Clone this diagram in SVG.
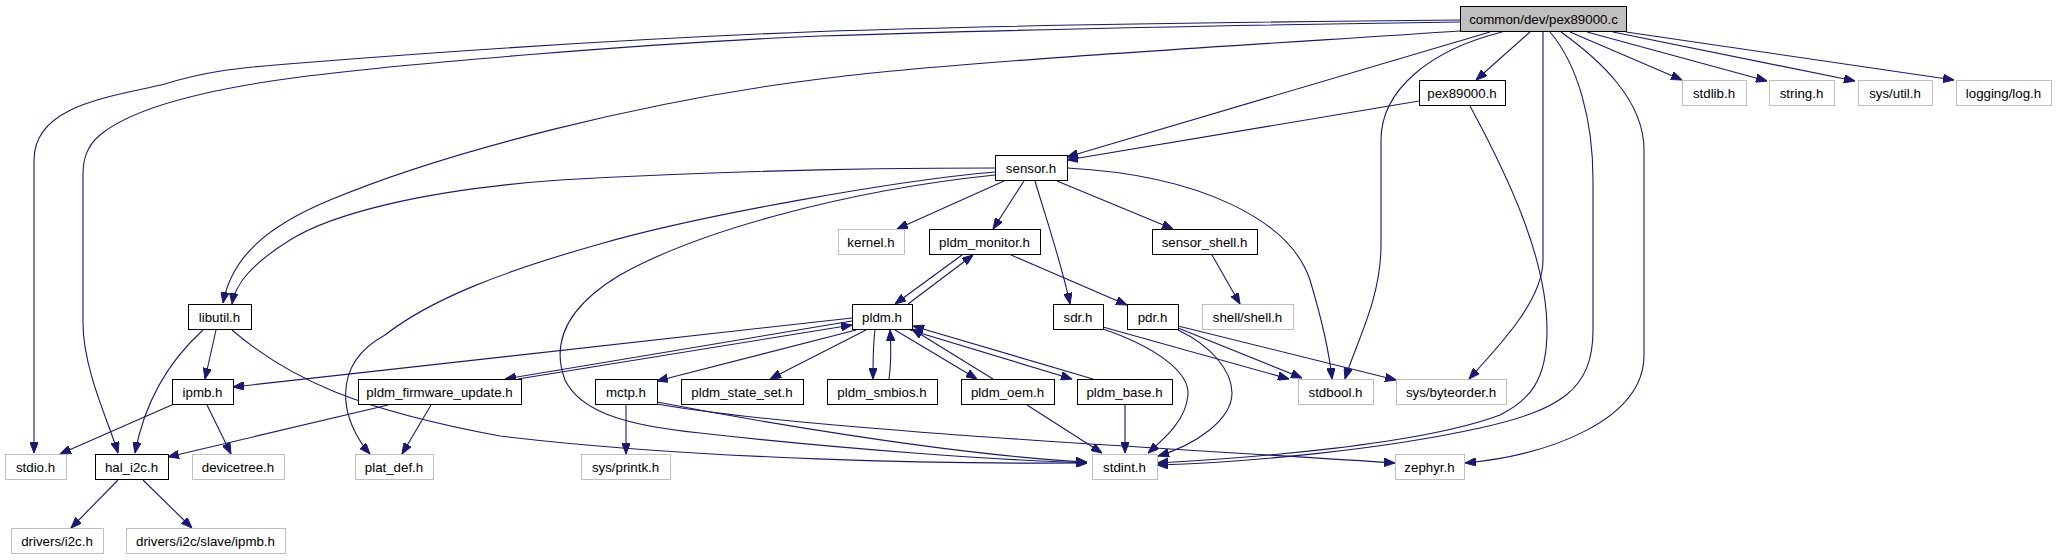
<svg xmlns="http://www.w3.org/2000/svg" width="2056" height="560" viewBox="0 0 2056 560">
<style>
rect{fill:#ffffff;stroke:#000000;stroke-width:1}
rect.main{fill:#bfbfbf}
rect.ext{stroke:#bfbfbf}
text{font-family:"Liberation Sans",Arial,sans-serif;font-size:13.3px;fill:#000000;text-anchor:middle}
#edges path{fill:none;stroke:#191970;stroke-width:1.1;marker-end:url(#arr)}
</style>
<defs>
<marker id="arr" viewBox="0 0 11 8.5" refX="11" refY="4.25" markerWidth="11" markerHeight="8.5" markerUnits="userSpaceOnUse" orient="auto">
<path d="M0,0 L11,4.25 L0,8.5 z" fill="#191970" stroke="#191970" stroke-width="1"/>
</marker>
</defs>
<rect x="0" y="0" width="2056" height="560" style="fill:#ffffff;stroke:none"/>
<g id="edges">
<path d="M1460,20 C1250,22 1000,25 820,31.5 C600,40 400,55 300,63 C230,68 200,73 165,84 C110,97 34,105 34,160 L34,453"/>
<path d="M1460,22 C1250,25 1000,30 820,36 C650,43 400,64 300,77 C200,90 130,110 100,135 C86,147 83,160 83,175 L83,323 C83,370 110,425 118,453"/>
<path d="M1460,31 C1250,45 950,62 820,79 C650,100 450,150 330,200 C270,225 232,255 223,303"/>
<path d="M1490,32 L1067,157"/>
<path d="M1530,32 L1476,80"/>
<path d="M1502,32 C1430,50 1381,90 1381,140 L1381,245 C1381,300 1355,345 1345,379"/>
<path d="M1543,32 L1543,260 C1543,300 1500,345 1469,379"/>
<path d="M1550,32 C1578,65 1593,120 1593,180 L1593,330 C1593,390 1560,410 1480,428 C1380,450 1250,462 1157,465"/>
<path d="M1561,32 C1600,60 1644,100 1644,150 L1644,355 C1644,420 1550,455 1465,463"/>
<path d="M1570,32 L1682,80"/>
<path d="M1587,32 L1767,81"/>
<path d="M1613,32 L1855,81"/>
<path d="M1626,32 L1954,80"/>
<path d="M1419,101 L1067,160"/>
<path d="M1470,106 C1510,180 1547,260 1547,330 C1547,380 1530,400 1500,415 C1420,445 1250,458 1157,463"/>
<path d="M995,168 C850,168 700,172 560,180 C420,190 330,215 290,240 C250,265 235,285 232,304"/>
<path d="M995,172 C900,180 700,215 600,244 C500,272 430,300 385,335 C330,365 340,420 370,454"/>
<path d="M995,175 C850,190 700,230 620,275 C570,305 550,340 565,380 C580,410 620,425 700,433 C850,450 1000,460 1087,463"/>
<path d="M1004,181 L897,229"/>
<path d="M1024,181 L993,229"/>
<path d="M1035,181 C1045,215 1062,265 1070,304"/>
<path d="M1057,181 L1173,229"/>
<path d="M1067,168 C1200,175 1290,220 1310,280 C1322,320 1329,350 1332,379"/>
<path d="M962,255 L895,304"/>
<path d="M1011,255 L1127,305"/>
<path d="M1212,255 L1240,304"/>
<path d="M908,304 L973,255"/>
<path d="M852,318 L233,387"/>
<path d="M852,321 L505,379"/>
<path d="M518,379 L852,325"/>
<path d="M856,330 L657,381"/>
<path d="M866,330 L770,379"/>
<path d="M875,330 C873,345 873,360 873,379"/>
<path d="M889,379 C891,365 891,345 890,330"/>
<path d="M895,330 L977,379"/>
<path d="M993,379 L912,329"/>
<path d="M910,330 L1072,379"/>
<path d="M1093,379 L913,326"/>
<path d="M1027,405 L1102,453"/>
<path d="M1125,405 L1125,453"/>
<path d="M1103,327 L1289,379"/>
<path d="M1103,329 C1150,345 1190,370 1188,395 C1186,420 1165,438 1148,453"/>
<path d="M1178,328 L1302,378"/>
<path d="M1178,326 L1396,380"/>
<path d="M1178,330 C1210,345 1232,370 1232,393 C1232,420 1195,445 1158,456"/>
<path d="M626,405 L626,454"/>
<path d="M657,402 C750,420 950,455 1087,462"/>
<path d="M657,404 C800,430 1200,450 1395,463"/>
<path d="M216,330 L205,379"/>
<path d="M203,330 C170,360 145,400 135,453"/>
<path d="M232,330 C290,380 360,410 500,436 C700,460 950,464 1087,463"/>
<path d="M174,404 L60,454"/>
<path d="M207,405 L231,454"/>
<path d="M388,405 L168,457"/>
<path d="M431,405 L402,454"/>
<path d="M118,480 L71,528"/>
<path d="M143,480 L192,528"/>
</g>
<g id="node_main"><rect class="main" x="1460.5" y="6.5" width="166" height="25"/><text x="1543.5" y="24">common/dev/pex89000.c</text></g>
<g id="node_pex89000_h"><rect x="1419.5" y="80.5" width="86" height="25"/><text x="1462" y="98">pex89000.h</text></g>
<g id="node_stdlib_h"><rect class="ext" x="1682.5" y="80.5" width="64" height="25"/><text x="1714" y="98">stdlib.h</text></g>
<g id="node_string_h"><rect class="ext" x="1769.5" y="80.5" width="65" height="25"/><text x="1801.5" y="98">string.h</text></g>
<g id="node_sys_util_h"><rect class="ext" x="1858.5" y="80.5" width="74" height="25"/><text x="1895" y="98">sys/util.h</text></g>
<g id="node_logging_log_h"><rect class="ext" x="1956.5" y="80.5" width="95" height="25"/><text x="2003.5" y="98">logging/log.h</text></g>
<g id="node_sensor_h"><rect x="995.5" y="155.5" width="72" height="25"/><text x="1031" y="173">sensor.h</text></g>
<g id="node_kernel_h"><rect class="ext" x="838.5" y="229.5" width="66" height="25"/><text x="871" y="247">kernel.h</text></g>
<g id="node_pldm_monitor_h"><rect x="929.5" y="229.5" width="111" height="25"/><text x="984.5" y="247">pldm_monitor.h</text></g>
<g id="node_sensor_shell_h"><rect x="1152.5" y="229.5" width="105" height="25"/><text x="1204.5" y="247">sensor_shell.h</text></g>
<g id="node_libutil_h"><rect x="188.5" y="304.5" width="63" height="25"/><text x="219.5" y="322">libutil.h</text></g>
<g id="node_pldm_h"><rect x="852.5" y="304.5" width="60" height="25"/><text x="882" y="322">pldm.h</text></g>
<g id="node_sdr_h"><rect x="1053.5" y="304.5" width="50" height="25"/><text x="1078" y="322">sdr.h</text></g>
<g id="node_pdr_h"><rect x="1127.5" y="304.5" width="51" height="25"/><text x="1152.5" y="322">pdr.h</text></g>
<g id="node_shell_shell_h"><rect class="ext" x="1202.5" y="304.5" width="91" height="25"/><text x="1247.5" y="322">shell/shell.h</text></g>
<g id="node_ipmb_h"><rect x="172.5" y="379.5" width="61" height="25"/><text x="202.5" y="397">ipmb.h</text></g>
<g id="node_pldm_firmware_update_h"><rect x="358.5" y="379.5" width="163" height="25"/><text x="439.5" y="397">pldm_firmware_update.h</text></g>
<g id="node_mctp_h"><rect x="595.5" y="379.5" width="62" height="25"/><text x="626" y="397">mctp.h</text></g>
<g id="node_pldm_state_set_h"><rect x="681.5" y="379.5" width="122" height="25"/><text x="742" y="397">pldm_state_set.h</text></g>
<g id="node_pldm_smbios_h"><rect x="827.5" y="379.5" width="110" height="25"/><text x="882" y="397">pldm_smbios.h</text></g>
<g id="node_pldm_oem_h"><rect x="961.5" y="379.5" width="93" height="25"/><text x="1007.5" y="397">pldm_oem.h</text></g>
<g id="node_pldm_base_h"><rect x="1077.5" y="379.5" width="95" height="25"/><text x="1124.5" y="397">pldm_base.h</text></g>
<g id="node_stdbool_h"><rect class="ext" x="1298.5" y="379.5" width="75" height="25"/><text x="1335.5" y="397">stdbool.h</text></g>
<g id="node_sys_byteorder_h"><rect class="ext" x="1396.5" y="379.5" width="110" height="25"/><text x="1451" y="397">sys/byteorder.h</text></g>
<g id="node_stdio_h"><rect class="ext" x="5.5" y="454.5" width="61" height="25"/><text x="35.5" y="472">stdio.h</text></g>
<g id="node_hal_i2c_h"><rect x="95.5" y="454.5" width="73" height="25"/><text x="131.5" y="472">hal_i2c.h</text></g>
<g id="node_devicetree_h"><rect class="ext" x="192.5" y="454.5" width="92" height="25"/><text x="238" y="472">devicetree.h</text></g>
<g id="node_plat_def_h"><rect class="ext" x="355.5" y="454.5" width="78" height="25"/><text x="394" y="472">plat_def.h</text></g>
<g id="node_sys_printk_h"><rect class="ext" x="581.5" y="454.5" width="89" height="25"/><text x="625.5" y="472">sys/printk.h</text></g>
<g id="node_stdint_h"><rect class="ext" x="1092.5" y="454.5" width="65" height="25"/><text x="1124.5" y="472">stdint.h</text></g>
<g id="node_zephyr_h"><rect class="ext" x="1395.5" y="454.5" width="69" height="25"/><text x="1429.5" y="472">zephyr.h</text></g>
<g id="node_drivers_i2c_h"><rect class="ext" x="11.5" y="528.5" width="92" height="25"/><text x="57" y="546">drivers/i2c.h</text></g>
<g id="node_drivers_i2c_slave_ipmb_h"><rect class="ext" x="126.5" y="528.5" width="159" height="25"/><text x="205.5" y="546">drivers/i2c/slave/ipmb.h</text></g>
</svg>
